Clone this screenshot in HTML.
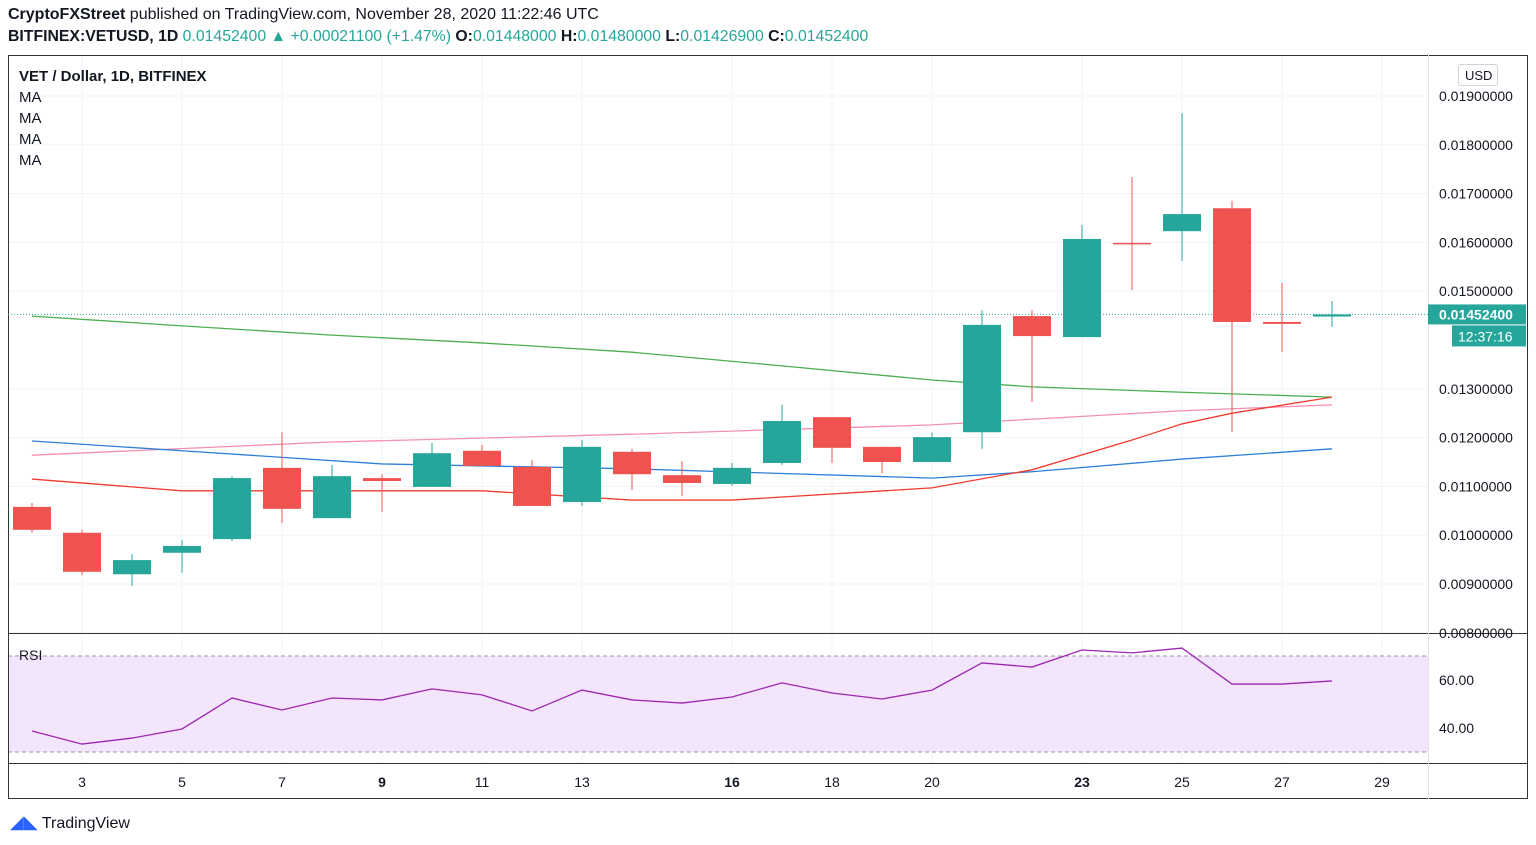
<!DOCTYPE html>
<html><head><meta charset="utf-8"><style>
body{margin:0;width:1536px;height:845px;background:#fff;font-family:"Liberation Sans",sans-serif;overflow:hidden;position:relative}
.t{position:absolute;white-space:nowrap}
</style></head><body>
<div class="t" style="left:8px;top:6px;font-size:16px;color:#131722"><b>CryptoFXStreet</b> published on TradingView.com, November 28, 2020 11:22:46 UTC</div>
<div class="t" style="left:8px;top:28px;font-size:15.8px;color:#131722"><b>BITFINEX:VETUSD, 1D</b> <span style="color:#26a69a">0.01452400</span> <span style="color:#26a69a">▲ +0.00021100 (+1.47%)</span> <b>O:</b><span style="color:#26a69a">0.01448000</span> <b>H:</b><span style="color:#26a69a">0.01480000</span> <b>L:</b><span style="color:#26a69a">0.01426900</span> <b>C:</b><span style="color:#26a69a">0.01452400</span></div>
<svg id="c" width="1536" height="845" style="position:absolute;left:0;top:0"></svg>
<div class="t" style="left:10px;top:812px;font-size:16px;color:#131722"><span style="color:#2962ff;font-size:18px">◢◣</span> TradingView</div>
<script>
const days=[2,3,4,5,6,7,8,9,10,11,12,13,14,15,16,17,18,19,20,21,22,23,24,25,26,27,28];
const opens=[0.01058,0.01005,0.00920,0.00964,0.00992,0.01138,0.01035,0.01117,0.01099,0.01173,0.01140,0.01068,0.01171,0.01123,0.01105,0.01148,0.01242,0.01181,0.01150,0.01211,0.01449,0.01406,0.01599,0.01623,0.01670,0.01437,0.01448];
const highs=[0.01066,0.01011,0.00961,0.00990,0.01121,0.01211,0.01144,0.01125,0.01189,0.01185,0.01154,0.01195,0.01177,0.01152,0.01148,0.01267,0.01242,0.01181,0.01211,0.01461,0.01461,0.01636,0.01734,0.01865,0.01685,0.01517,0.01480];
const lows=[0.01005,0.00918,0.00896,0.00923,0.00988,0.01025,0.01035,0.01048,0.01099,0.01142,0.01060,0.01060,0.01093,0.01080,0.01101,0.01144,0.01148,0.01127,0.01150,0.01177,0.01273,0.01406,0.01502,0.01562,0.01211,0.01375,0.014269];
const closes=[0.01011,0.00925,0.00949,0.00978,0.01117,0.01054,0.01121,0.01111,0.01168,0.01142,0.01060,0.01181,0.01125,0.01107,0.01138,0.01234,0.01179,0.01150,0.01201,0.01431,0.01408,0.01607,0.01597,0.01658,0.01437,0.01433,0.014524];
const greenDays=[2,5,8,11,14,17,20,22,25,28];
const greenMA=[0.01449,0.01429,0.01410,0.01394,0.01375,0.01347,0.01318,0.01304,0.01293,0.01283];
const pinkDays=[2,8,14,20,25,28];
const pinkMA=[0.01164,0.01191,0.01207,0.01226,0.01255,0.01267];
const blueDays=[2,5,9,14,20,22,25,28];
const blueMA=[0.01193,0.01173,0.01146,0.01136,0.01117,0.01130,0.01156,0.01177];
const redDays=[2,5,11,14,16,20,22,24,25,26,28];
const redMA=[0.01115,0.01091,0.01091,0.01072,0.01072,0.01097,0.01134,0.01195,0.01228,0.01250,0.01283];
const rsi=[38.75,33.3,35.8,39.6,52.5,47.5,52.5,51.7,56.3,53.8,47.1,55.8,51.7,50.4,52.9,58.8,54.6,52.1,55.8,67.1,65.4,72.5,71.3,73.3,58.3,58.3,59.6];
const priceTicks=[0.019,0.018,0.017,0.016,0.015,0.013,0.012,0.011,0.010,0.009,0.008];
const timeTicks=[3,5,7,9,11,13,16,18,20,23,25,27,29];
const boldTicks=[9,16,23];
const rsiTicks=[60,40];
const lastPrice=0.014524;

const NS='http://www.w3.org/2000/svg',svg=document.getElementById('c');
const X=d=>82+(d-3)*50;
const Y=p=>96+(0.019-p)*48800;
const RY=v=>680-(v-60)*2.4;
function el(tag,a,parent){const e=document.createElementNS(NS,tag);for(const k in a)e.setAttribute(k,a[k]);(parent||svg).appendChild(e);return e;}
for(const p of priceTicks){const g=el('line',{x1:8,x2:1428,y1:Y(p),y2:Y(p),stroke:'#f0f3fa'});

}
for(const d of timeTicks){const g=el('line',{x1:X(d),x2:X(d),y1:55,y2:763,stroke:'#f0f3fa'});

}
const band=el('rect',{x:8,y:RY(70),width:1420,height:RY(30)-RY(70),fill:'#f3e5fc'});


for(const v of [70,30]){const l=el('line',{x1:8,x2:1428,y1:RY(v),y2:RY(v),stroke:'#999','stroke-dasharray':'4 3'});

}
const fr=el('rect',{x:8.5,y:55.5,width:1519,height:743,fill:'none',stroke:'#333'});


for(const y of [633.5,763.5]){const l=el('line',{x1:8,x2:1528,y1:y,y2:y,stroke:'#333'});

}
const ax=el('line',{x1:1428.5,x2:1428.5,y1:55,y2:799,stroke:'#e0e3eb'});


function line(ds,vs,col,name){const pts=ds.map((d,i)=>X(d)+','+Y(vs[i])).join(' ');
const p=el('polyline',{points:pts,fill:'none',stroke:col,'stroke-width':1.3});

}
line(greenDays,greenMA,'#4caf50','ma-green');
line(pinkDays,pinkMA,'#f48fb1','ma-pink');
line(blueDays,blueMA,'#2f7fd8','ma-blue');
line(redDays,redMA,'#f23b2f','ma-red');
const lp=el('line',{x1:8,x2:1428,y1:Y(lastPrice),y2:Y(lastPrice),stroke:'#26a69a','stroke-dasharray':'1 2'});


days.forEach((d,i)=>{const up=closes[i]>=opens[i],col=up?'#26a69a':'#ef5350';
const g=el('g',{});


el('line',{x1:X(d),x2:X(d),y1:Y(highs[i]),y2:Y(lows[i]),stroke:col},g);
const t=Y(Math.max(opens[i],closes[i])),b=Y(Math.min(opens[i],closes[i]));
el('rect',{x:X(d)-19,y:t,width:38,height:Math.max(1.5,b-t),fill:col},g);});
const rp=el('polyline',{points:days.map((d,i)=>X(d)+','+RY(rsi[i])).join(' '),fill:'none',stroke:'#9c27b0','stroke-width':1.3});


function txt(x,y,s,a,parent){const t=el('text',Object.assign({x:x,y:y,'font-size':14,fill:'#131722','font-family':'Liberation Sans, sans-serif'},a||{}),parent);t.textContent=s;return t;}
for(const p of priceTicks){const t=txt(1439,Y(p)+5,p.toFixed(8));

}
for(const v of rsiTicks){const t=txt(1439,RY(v)+5,v.toFixed(2));

}
for(const d of timeTicks){const t=txt(X(d),787,String(d),{'text-anchor':'middle','font-weight':boldTicks.includes(d)?'bold':'normal'});

}
const lb=el('rect',{x:1428,y:Y(lastPrice)-10,width:98,height:20,fill:'#26a69a'});


const lt=txt(1439,Y(lastPrice)+5,lastPrice.toFixed(8),{fill:'#fff','font-weight':'bold'});


const cb=el('rect',{x:1452,y:Y(lastPrice)+11,width:74,height:21,fill:'#26a69a'});


const ct=txt(1458,Y(lastPrice)+27,'12:37:16',{fill:'#fff'});


const ub=el('rect',{x:1458.5,y:64.5,width:39,height:21,fill:'#fff',stroke:'#d1d4dc',rx:2});


const ut=txt(1465,80,'USD',{'font-size':13});


const tt=txt(19,81,'VET / Dollar, 1D, BITFINEX',{'font-size':15,'font-weight':'bold'});


[102,123,144,165].forEach(y=>{const m=txt(19,y,'MA',{'font-size':15});

});
const rl=txt(19,660,'RSI',{'font-size':14});


</script>
</body></html>
